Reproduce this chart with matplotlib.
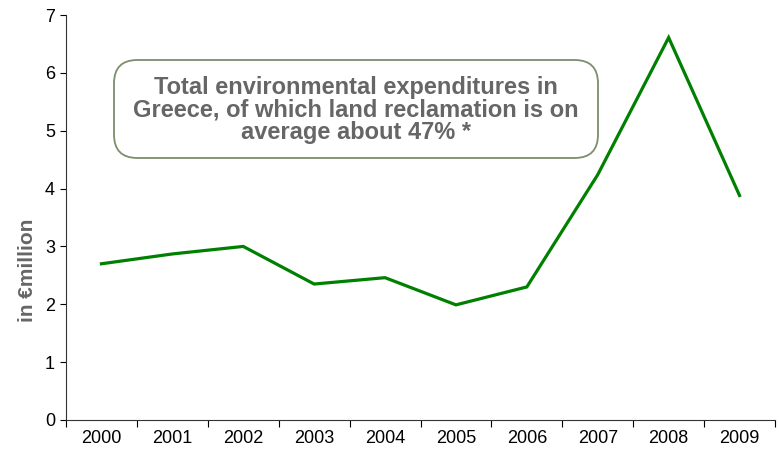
import matplotlib.pyplot as plt
from matplotlib.patches import FancyBboxPatch

# データ
years = ['2000', '2001', '2002', '2003', '2004', '2005', '2006', '2007', '2008', '2009']
values = [2.70, 2.87, 3.00, 2.35, 2.46, 1.99, 2.30, 4.24, 6.61, 3.88]

plt.rcParams['font.family'] = ['Liberation Sans', 'DejaVu Sans']

fig = plt.figure(figsize=(7.79, 4.49), dpi=100)
ax = fig.add_axes([66/779, 29/449, 709/779, 405/449])

x = list(range(len(years)))
ax.plot(x, values, color='#008000', linewidth=2.3, solid_joinstyle='miter')

ax.set_xlim(-0.5, len(years) - 0.5)
ax.set_ylim(0, 7)
ax.set_yticks(range(0, 8))
ax.tick_params(axis='y', labelsize=13, length=4, width=0.8, direction='out', pad=4)

# カテゴリの境界に目盛り
ax.set_xticks([i - 0.5 for i in range(len(years) + 1)])
ax.set_xticklabels([])
ax.set_xticks(x, minor=True)
ax.set_xticklabels(years, minor=True, fontsize=13)
ax.tick_params(axis='x', which='major', length=5, width=0.8, direction='out')
ax.tick_params(axis='x', which='minor', length=0, pad=7)

for s in ['top', 'right']:
    ax.spines[s].set_visible(False)
for s in ['left', 'bottom']:
    ax.spines[s].set_color('#333333')
    ax.spines[s].set_linewidth(0.8)

ax.set_ylabel('in €million', fontsize=15, fontweight='bold', color='#666666')
ax.yaxis.set_label_coords(-0.041, 0.37)

# テキストボックス
box = FancyBboxPatch((114/779, (449-158)/449), (598-114)/779, (158-60)/449,
                     boxstyle='round,pad=0,rounding_size=0.03',
                     transform=fig.transFigure, facecolor='white',
                     edgecolor='#7a8f6a', linewidth=1.3, mutation_aspect=779/449)
fig.patches.append(box)
fig.text(356/779, (449-110)/449,
         'Total environmental expenditures in\nGreece, of which land reclamation is on\naverage about 47% *',
         ha='center', va='center', fontsize=17, fontweight='bold', color='#666666',
         linespacing=0.97)

fig.savefig('out.png', dpi=100)
